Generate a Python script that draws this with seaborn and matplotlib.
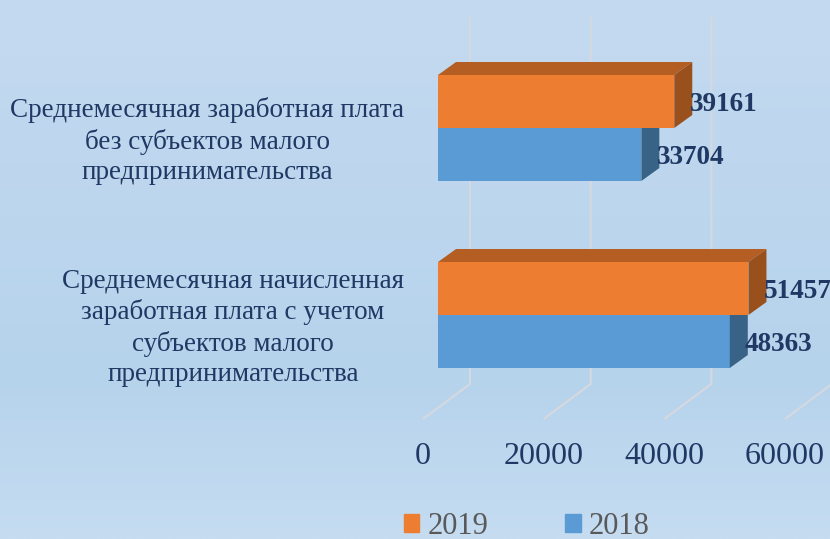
import numpy as np
import pandas as pd
import matplotlib.pyplot as plt
import matplotlib.transforms as mtransforms
import seaborn as sns
from matplotlib.patches import Polygon, Patch
from matplotlib.colors import LinearSegmentedColormap

# data
categories = [
    "Среднемесячная заработная плата\nбез субъектов малого\nпредпринимательства",
    "Среднемесячная начисленная\nзаработная плата с учетом\nсубъектов малого\nпредпринимательства",
]
years = ["2019", "2018"]
values_2019 = [39161, 51457]
values_2018 = [33704, 48363]
x_ticks = [0, 20000, 40000, 60000]

front_colors = {"2019": "#ED7D31", "2018": "#5B9BD5"}
top_colors = {"2019": "#B45E23", "2018": "#3F6F9A"}
side_colors = {"2019": "#99501D", "2018": "#386387"}
text_blue = "#1F3864"

# layout (pixels of the 830x539 picture)
W, H = 830, 539
X0_PX = 438                 # value 0 on the front face of the bars
PX_PER_UNIT = 362 / 60000
Y0_PX, ROW_PX = 128, 187    # centre of the first category, distance between categories


def dx(p):
    return p / PX_PER_UNIT


def dy(p):
    return p / ROW_PX


def row(py):
    return (py - Y0_PX) / ROW_PX


sns.set_style("white")
plt.rcParams["font.family"] = ["Liberation Serif", "DejaVu Serif"]

fig = plt.figure(figsize=(W / 100, H / 100), dpi=100)

# background gradient
bg = fig.add_axes([0, 0, 1, 1], zorder=0)
cmap = LinearSegmentedColormap.from_list(
    "bg", [(0, "#C4DAF0"), (0.7, "#B6D3EC"), (1, "#C5DCF1")])
bg.imshow(np.linspace(0, 1, 256).reshape(-1, 1), cmap=cmap, aspect="auto")
bg.axis("off")

ax = fig.add_axes([0, 0, 1, 1], zorder=1)
ax.patch.set_alpha(0)

df = pd.DataFrame({
    "category": categories * 2,
    "year": ["2019"] * 2 + ["2018"] * 2,
    "value": values_2019 + values_2018,
})

sns.barplot(data=df, x="value", y="category", hue="year", order=categories,
            hue_order=years, palette=front_colors, orient="h", width=106 / 187,
            saturation=1, linewidth=0, errorbar=None, legend=False, ax=ax)

ax.set_xlim(-dx(X0_PX), dx(W - X0_PX))
ax.set_ylim(row(H), row(0))
ax.axis("off")

# back wall + floor gridlines
for v in x_ticks:
    ax.plot([v + dx(32), v + dx(32), v - dx(15)],
            [row(17), row(384), row(419)],
            color="#D5D9DF", lw=1.5, zorder=1, solid_capstyle="butt")
    ax.text(v - dx(15), row(456), f"{v}", ha="center", va="center",
            fontsize=23, color=text_blue)

# 3d faces
depth_x, depth_y = dx(18), dy(13)
for container, year in zip(ax.containers, years):
    z = 3 if year == "2019" else 2
    for bar in container:
        bar.set_zorder(z)
        x0, y0 = bar.get_x(), bar.get_y()
        w, h = bar.get_width(), bar.get_height()
        top = [(x0, y0), (x0 + w, y0), (x0 + w + depth_x, y0 - depth_y),
               (x0 + depth_x, y0 - depth_y)]
        side = [(x0 + w, y0), (x0 + w, y0 + h),
                (x0 + w + depth_x, y0 + h - depth_y),
                (x0 + w + depth_x, y0 - depth_y)]
        ax.add_patch(Polygon(top, closed=True, fc=top_colors[year], ec="none", zorder=z))
        ax.add_patch(Polygon(side, closed=True, fc=side_colors[year], ec="none", zorder=z))
    labels = ax.bar_label(container, padding=11, fontsize=19.5, fontweight="bold",
                          color=text_blue, zorder=4)
    for lab in labels:
        lab.xyann = (11, -2.5)

# category labels
label_tr = mtransforms.offset_copy(ax.transData, fig=fig, x=-34, y=0, units="dots")
for i, cat in enumerate(categories):
    ax.text(0, i + dy(13), cat, transform=label_tr, ha="right", va="center",
            multialignment="center", fontsize=19.5, linespacing=1.27,
            color=text_blue)

handles = [Patch(color=front_colors[y]) for y in years]
fig.legend(handles, years, ncol=2, loc="center",
           bbox_to_anchor=(526.5 / W, 1 - 526 / H), frameon=False, fontsize=22,
           handlelength=0.52, handleheight=0.52, handletextpad=0.26,
           columnspacing=2.5, labelcolor="#595959")

fig.savefig("out.png", dpi=100)
